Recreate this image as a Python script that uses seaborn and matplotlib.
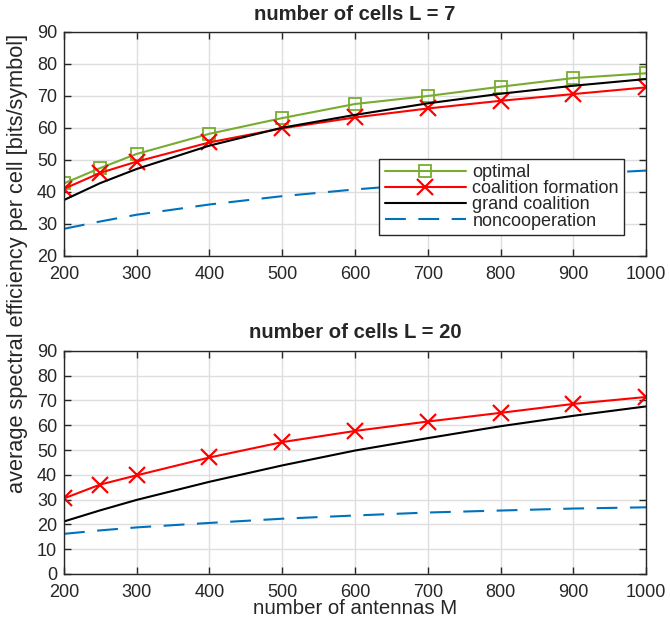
import numpy as np
import matplotlib
matplotlib.use("Agg")
import matplotlib.pyplot as plt
import seaborn as sns

# number of antennas
M = [200, 250, 300, 400, 500, 600, 700, 800, 900, 1000]

# L = 7
opt_7 = [42.7, 47.5, 51.9, 58.2, 63.1, 67.5, 70.0, 72.9, 75.6, 77.1]
cf_7 = [41.0, 46.0, 49.5, 55.5, 59.9, 63.3, 66.1, 68.5, 70.6, 72.7]
gc_7 = [37.5, 42.8, 47.2, 54.5, 60.1, 64.1, 67.7, 70.7, 73.2, 75.3]
nc_7 = [28.5, 30.8, 32.9, 36.1, 38.7, 40.8, 42.6, 44.1, 45.5, 46.7]

# L = 20
cf_20 = [30.5, 36.1, 39.8, 47.0, 53.2, 57.7, 61.5, 65.0, 68.6, 71.4]
gc_20 = [21.2, 25.7, 29.9, 37.2, 43.8, 49.8, 54.8, 59.6, 63.8, 67.6]
nc_20 = [16.2, 17.6, 18.8, 20.6, 22.3, 23.6, 24.8, 25.6, 26.4, 26.9]

GREEN, RED, BLUE = "#77AC30", "#FF0000", "#0072BD"
DASH = (0, (10, 6))

sns.set_style("ticks")
plt.rcParams["font.family"] = ["Liberation Sans", "DejaVu Sans"]
plt.rcParams["font.size"] = 13

fig = plt.figure(figsize=(6.7, 6.25), dpi=100)
ax1 = fig.add_axes([0.0955, 0.5904, 0.8687, 0.3584])
ax2 = fig.add_axes([0.0955, 0.0816, 0.8687, 0.3570])


def style(ax, ymin, title):
    ax.set_xlim(200, 1000)
    ax.set_ylim(ymin, 90)
    ax.set_xticks(np.arange(200, 1001, 100))
    ax.set_yticks(np.arange(ymin, 91, 10))
    ax.grid(True, color="0.87", linewidth=1.0)
    ax.set_axisbelow(True)
    ax.tick_params(direction="in", top=True, right=True, length=5, width=1,
                   labelsize=13, colors="0.15")
    ax.tick_params(axis="x", pad=7)
    ax.tick_params(axis="y", pad=5)
    for s in ax.spines.values():
        s.set_linewidth(1.0)
        s.set_color("0.15")
    ax.set_title(title, fontweight="bold", fontsize=14.6, pad=9)
    ax.set_xlabel("")
    ax.set_ylabel("")


sns.lineplot(x=M, y=opt_7, ax=ax1, color=GREEN, lw=1.5, marker="s", ms=9,
             mfc="none", mec=GREEN, mew=1.3, label="optimal")
sns.lineplot(x=M, y=cf_7, ax=ax1, color=RED, lw=1.5, marker="x", ms=11,
             mec=RED, mew=1.6, label="coalition formation")
sns.lineplot(x=M, y=gc_7, ax=ax1, color="black", lw=1.5, label="grand coalition")
sns.lineplot(x=M, y=nc_7, ax=ax1, color=BLUE, lw=1.5, linestyle=DASH,
             label="noncooperation")
style(ax1, 20, "number of cells L = 7")
leg = ax1.legend(loc="lower left", bbox_to_anchor=(0.542, 0.094), fontsize=13,
                 frameon=True, fancybox=False, edgecolor="0.15", framealpha=1,
                 handlelength=4.5, borderpad=0.3, labelspacing=-0.05,
                 handletextpad=0.35, borderaxespad=0)
leg.get_frame().set_linewidth(1.0)

sns.lineplot(x=M, y=cf_20, ax=ax2, color=RED, lw=1.5, marker="x", ms=11,
             mec=RED, mew=1.6)
sns.lineplot(x=M, y=gc_20, ax=ax2, color="black", lw=1.5)
sns.lineplot(x=M, y=nc_20, ax=ax2, color=BLUE, lw=1.5, linestyle=DASH)
style(ax2, 0, "number of cells L = 20")

fig.text(0.026, 0.578, "average spectral efficiency per cell [bits/symbol]",
         rotation=90, ha="center", va="center", fontsize=15.7)
fig.text(0.53, 0.026, "number of antennas M", ha="center", va="center", fontsize=14.7)

fig.savefig("out.png", dpi=100)
